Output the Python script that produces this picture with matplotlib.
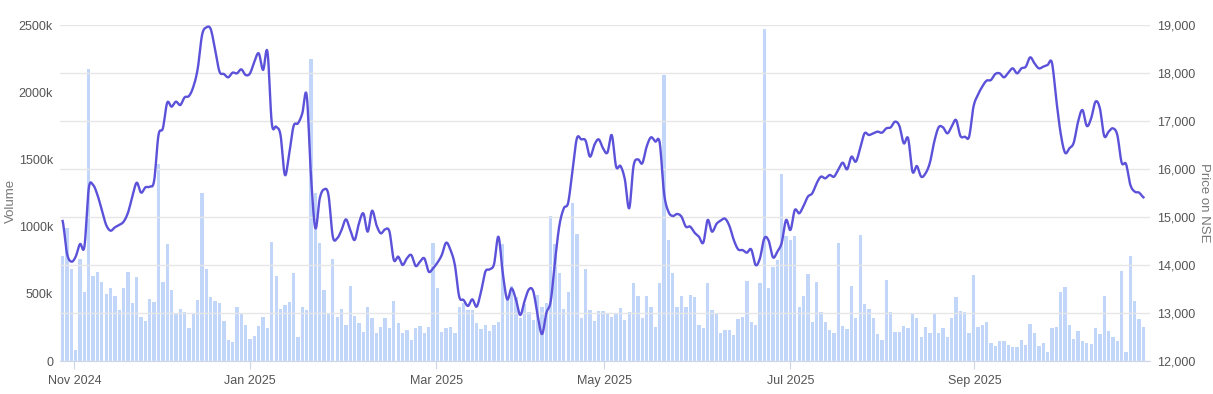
import numpy as np
import matplotlib.pyplot as plt
from matplotlib.ticker import FuncFormatter

plt.rcParams['font.family'] = ['Liberation Sans', 'DejaVu Sans']

# daily volume (thousands), one value per trading day
volume_k = [
    780, 990, 682, 82, 761, 516, 2170, 635, 665, 585,
    498, 543, 484, 379, 543, 660, 429, 627, 325, 298,
    459, 441, 1466, 585, 868, 528, 350, 389, 365, 246,
    350, 454, 1250, 684, 473, 448, 428, 294, 157, 139,
    400, 353, 269, 162, 189, 261, 331, 244, 886, 634,
    386, 418, 438, 654, 182, 400, 376, 2250, 1252, 880,
    528, 355, 756, 330, 389, 268, 558, 335, 285, 216,
    404, 320, 211, 255, 320, 246, 444, 285, 206, 231,
    156, 246, 260, 206, 250, 875, 546, 216, 246, 250,
    211, 399, 429, 380, 380, 285, 241, 265, 221, 265,
    293, 870, 459, 558, 474, 322, 424, 362, 305, 489,
    404, 429, 1079, 870, 652, 384, 513, 1178, 945, 322,
    682, 380, 298, 375, 374, 355, 325, 350, 394, 305,
    362, 578, 484, 317, 484, 399, 255, 578, 2128, 900,
    652, 399, 484, 399, 494, 474, 265, 246, 578, 380,
    355, 211, 231, 231, 193, 315, 330, 598, 293, 268,
    578, 2468, 541, 702, 751, 1389, 930, 900, 930, 399,
    484, 647, 293, 590, 365, 293, 231, 211, 880, 260,
    236, 558, 322, 935, 424, 389, 322, 198, 156, 603,
    365, 218, 216, 260, 243, 355, 322, 176, 255, 211,
    355, 211, 246, 176, 322, 474, 374, 365, 206, 640,
    250, 268, 293, 131, 112, 151, 151, 119, 107, 107,
    156, 119, 275, 211, 112, 136, 69, 243, 250, 516,
    553, 268, 166, 226, 151, 136, 126, 243, 201, 484,
    226, 176, 151, 672, 69, 781, 449, 310, 255,
]

# closing price on NSE
price = [
    14917, 14243, 14070, 14174, 14438, 14382, 15597, 15667, 15458, 15146,
    14833, 14715, 14785, 14833, 14903, 15090, 15424, 15715, 15507, 15618,
    15632, 15757, 16708, 16847, 17382, 17299, 17403, 17333, 17493, 17521,
    17715, 18090, 18792, 18951, 18910, 18479, 18028, 17979, 17910, 18007,
    17993, 18076, 17958, 17993, 18236, 18410, 18063, 18444, 16951, 16882,
    16708, 15875, 16326, 16896, 16951, 17160, 17542, 15840, 14764, 15389,
    15576, 15458, 14590, 14556, 14729, 14951, 14729, 14521, 14868, 15076,
    14694, 15132, 14833, 14660, 14743, 14694, 14104, 14174, 14000, 14139,
    14208, 13979, 14069, 14139, 13861, 13931, 14049, 14208, 14465, 14313,
    14000, 13340, 13271, 13146, 13285, 13132, 13444, 13861, 13910, 14021,
    14590, 13826, 13285, 13514, 13285, 12958, 13250, 13493, 13450, 12950,
    12560, 13000, 13250, 14104, 14833, 15180, 15299, 15979, 16639, 16618,
    16590, 16257, 16500, 16618, 16431, 16340, 16708, 16049, 16063, 15785,
    15181, 16063, 16201, 16118, 16465, 16660, 16570, 16549, 15493, 15111,
    15021, 15063, 15007, 14799, 14799, 14674, 14590, 14465, 14938, 14694,
    14854, 14924, 14965, 14813, 14521, 14326, 14313, 14257, 14326, 14000,
    14139, 14556, 14507, 14160, 14278, 14465, 14938, 14729, 15146, 15076,
    15229, 15424, 15493, 15701, 15840, 15806, 15875, 15840, 15993, 16132,
    15993, 16257, 16153, 16431, 16743, 16708, 16743, 16778, 16757, 16847,
    16868, 16986, 16896, 16535, 16639, 15944, 16063, 15840, 15910, 16132,
    16570, 16868, 16868, 16743, 16882, 17021, 16688, 16674, 16674, 17299,
    17542, 17715, 17840, 17854, 17979, 17993, 17910, 18007, 18097, 17993,
    18097, 18132, 18326, 18201, 18097, 18132, 18167, 18215, 17438, 16743,
    16340, 16431, 16549, 16986, 17229, 16896, 17056, 17403, 17264, 16688,
    16778, 16847, 16708, 16132, 16104, 15667, 15528, 15507, 15410,
]

month_labels = ['Nov 2024', 'Jan 2025', 'Mar 2025', 'May 2025', 'Jul 2025', 'Sep 2025']
month_pos = [2.7, 43.0, 85.7, 124.3, 167.0, 209.2]


def spline(y, steps=8):
    # catmull-rom, just to get the smooth line look
    y = np.asarray(y, dtype=float)
    p = np.concatenate([[y[0]], y, [y[-1]]])
    xs, ys = [], []
    t = np.linspace(0, 1, steps, endpoint=False)
    for i in range(len(y) - 1):
        p0, p1, p2, p3 = p[i], p[i + 1], p[i + 2], p[i + 3]
        v = 0.5 * ((2 * p1) + (-p0 + p2) * t + (2 * p0 - 5 * p1 + 4 * p2 - p3) * t ** 2
                   + (-p0 + 3 * p1 - 3 * p2 + p3) * t ** 3)
        xs.extend(i + t)
        ys.extend(v)
    xs.append(len(y) - 1)
    ys.append(y[-1])
    return np.array(xs), np.array(ys)


x = np.arange(len(volume_k))

fig = plt.figure(figsize=(12.13, 3.94), dpi=100)
ax = fig.add_axes([60 / 1213, 33 / 394, 1090 / 1213, 336 / 394])
ax2 = ax.twinx()

ax.bar(x, np.array(volume_k) * 1000, width=0.76, color='#c2d6fa', zorder=2)
ax.set_ylim(0, 2500000)
ax.set_xlim(-0.6, 249.5)
ax.set_yticks(np.arange(0, 2500001, 500000))
ax.yaxis.set_major_formatter(FuncFormatter(lambda v, p: '0' if v == 0 else f'{int(v / 1000)}k'))

sx, sy = spline(price)
ax2.plot(sx, sy, color='#5b52d9', lw=1.7, zorder=3)
ax2.set_ylim(12000, 19000)
ax2.set_yticks(np.arange(12000, 19001, 1000))
ax2.yaxis.set_major_formatter(FuncFormatter(lambda v, p: f'{int(v):,}'))
ax2.grid(axis='y', color='#e6e6e6', lw=1)
ax2.set_axisbelow(True)

# volume axes drawn above the grid, price axes above that
ax.set_zorder(1)
ax.patch.set_visible(False)
ax2.set_zorder(2)
ax2.patch.set_visible(False)
fig.patch.set_facecolor('white')

for a in (ax, ax2):
    for s in a.spines.values():
        s.set_visible(False)
ax.spines['bottom'].set_visible(True)
ax.spines['bottom'].set_color('#ccd6eb')

ax.set_xticks(month_pos)
ax.set_xticklabels(month_labels)
ax.tick_params(axis='x', length=6, color='#ccd6eb', labelcolor='#555555', labelsize=9, pad=4)
ax.tick_params(axis='y', length=0, labelcolor='#555555', labelsize=9, pad=5)
ax2.tick_params(axis='y', length=0, labelcolor='#555555', labelsize=9, pad=5)

# axis titles placed by hand so they stay inside the canvas
fig.text(11 / 1213, 1 - 201 / 394, 'Volume', color='#777777', fontsize=9.5,
         rotation=90, ha='center', va='center')
fig.text(1204 / 1213, 1 - 203 / 394, 'Price on NSE', color='#777777', fontsize=9.5,
         rotation=270, ha='center', va='center')

fig.savefig('out.png', dpi=100, facecolor='white')
